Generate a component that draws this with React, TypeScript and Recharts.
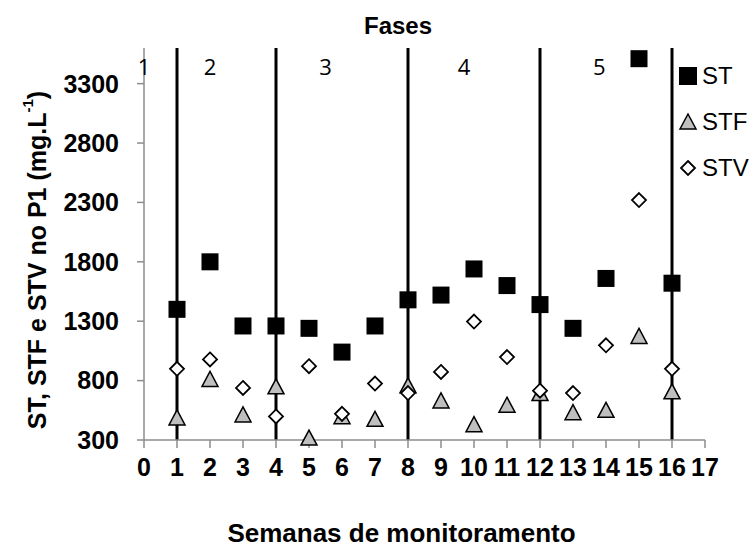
import { ScatterChart, Scatter, XAxis, YAxis, ReferenceLine, Label } from 'recharts';

const weeks = [1, 2, 3, 4, 5, 6, 7, 8, 9, 10, 11, 12, 13, 14, 15, 16];
const stValues = [1400, 1800, 1260, 1260, 1240, 1040, 1260, 1480, 1520, 1740, 1600, 1440, 1240, 1660, 3510, 1620];
const stfValues = [490, 814, 515, 752, 320, 500, 478, 760, 633, 433, 597, 695, 534, 554, 1176, 710];
const stvValues = [899, 978, 738, 498, 921, 520, 775, 695, 873, 1297, 998, 715, 695, 1097, 2320, 899];

const phaseBounds = [1, 4, 8, 12, 16];
const phaseNames = ['1', '2', '3', '4', '5'];
const phaseLabelX = [0, 2, 5.5, 9.7, 13.8];
const phaseLabelY = 3450;

const xTicks = [0, 1, 2, 3, 4, 5, 6, 7, 8, 9, 10, 11, 12, 13, 14, 15, 16, 17];
const yTicks = [300, 800, 1300, 1800, 2300, 2800, 3300];

const FONT = '"Liberation Sans", Arial, sans-serif';
const AXIS_GRAY = '#8c8c8c';

const toPoints = (vals: number[]) => vals.map((v, i) => ({ x: weeks[i], y: v }));
const stData = toPoints(stValues);
const stfData = toPoints(stfValues);
const stvData = toPoints(stvValues);
const phaseData = phaseNames.map((n, i) => ({ x: phaseLabelX[i], y: phaseLabelY, name: n }));

const SquareMark = (p: any) => <rect x={p.cx - 8.5} y={p.cy - 8.5} width={17} height={17} fill="#000" />;
const TriangleMark = (p: any) => (
  <polygon
    points={`${p.cx},${p.cy - 7.5} ${p.cx + 8},${p.cy + 7.5} ${p.cx - 8},${p.cy + 7.5}`}
    fill="#bfbfbf"
    stroke="#000"
    strokeWidth={1.5}
  />
);
const DiamondMark = (p: any) => (
  <polygon
    points={`${p.cx},${p.cy - 7} ${p.cx + 7},${p.cy} ${p.cx},${p.cy + 7} ${p.cx - 7},${p.cy}`}
    fill="#fff"
    stroke="#000"
    strokeWidth={1.8}
  />
);
const PhaseText = (p: any) => (
  <text x={p.cx} y={p.cy} textAnchor="middle" dominantBaseline="central" fontFamily='"Open Sans", sans-serif' fontSize={22} fill="#000">
    {p.payload.name}
  </text>
);

function LegendBox() {
  const rows = [
    { name: 'ST', icon: <rect x={1} y={4} width={18} height={18} fill="#000" /> },
    { name: 'STF', icon: <polygon points="10,5 18,20 2,20" fill="#bfbfbf" stroke="#000" strokeWidth={1.5} /> },
    { name: 'STV', icon: <polygon points="10,6 17,13 10,20 3,13" fill="#fff" stroke="#000" strokeWidth={1.8} /> },
  ];
  return (
    <div style={{ position: 'absolute', left: 678, top: 53, fontFamily: FONT, fontSize: 24, whiteSpace: 'nowrap' }}>
      {rows.map(r => (
        <div key={r.name} style={{ display: 'flex', alignItems: 'center', height: 46 }}>
          <svg width={21} height={26} style={{ marginRight: 3 }}>{r.icon}</svg>
          <span>{r.name}</span>
        </div>
      ))}
    </div>
  );
}

export default function App() {
  return (
    <div style={{ position: 'absolute', left: 0, top: 0, width: 755, height: 548, background: '#fff', overflow: 'hidden' }}>
      <div style={{ position: 'absolute', left: 0, top: 12, width: 796, textAlign: 'center', fontFamily: FONT, fontWeight: 'bold', fontSize: 24 }}>
        Fases
      </div>
      <ScatterChart width={755} height={548} margin={{ top: 48, right: 50, bottom: 0, left: 0 }}>
        <XAxis
          type="number"
          dataKey="x"
          domain={[0, 17]}
          ticks={xTicks}
          interval={0}
          height={108}
          stroke={AXIS_GRAY}
          strokeWidth={1.5}
          tickSize={8}
          tickMargin={10}
          tick={{ fill: '#000', fontFamily: FONT, fontWeight: 'bold', fontSize: 25 }}
        >
          <Label
            value="Semanas de monitoramento"
            position="insideBottom"
            offset={6}
            dx={-23}
            style={{ fill: '#000', fontFamily: FONT, fontWeight: 'bold', fontSize: 26 }}
          />
        </XAxis>
        <YAxis
          type="number"
          dataKey="y"
          domain={[300, 3600]}
          ticks={yTicks}
          interval={0}
          width={144}
          stroke={AXIS_GRAY}
          strokeWidth={1.5}
          tickSize={7}
          tickMargin={18}
          tick={{ fill: '#000', fontFamily: FONT, fontWeight: 'bold', fontSize: 25 }}
        >
          <Label
            content={() => (
              <text
                x={37}
                y={260}
                transform="rotate(-90, 37, 260)"
                textAnchor="middle"
                dominantBaseline="central"
                fontFamily={FONT}
                fontWeight="bold"
                fontSize={25}
                fill="#000"
              >
                ST, STF e STV no P1 (mg.L
                <tspan fontSize={15} dy={-10}>-1</tspan>
                <tspan dy={10}>)</tspan>
              </text>
            )}
          />
        </YAxis>
        {phaseBounds.map(b => (
          <ReferenceLine key={b} x={b} stroke="#000" strokeWidth={3} />
        ))}
        <Scatter name="phases" data={phaseData} shape={PhaseText} isAnimationActive={false} legendType="none" />
        <Scatter name="ST" data={stData} shape={SquareMark} isAnimationActive={false} />
        <Scatter name="STF" data={stfData} shape={TriangleMark} isAnimationActive={false} />
        <Scatter name="STV" data={stvData} shape={DiamondMark} isAnimationActive={false} />
      </ScatterChart>
      <LegendBox />
    </div>
  );
}
